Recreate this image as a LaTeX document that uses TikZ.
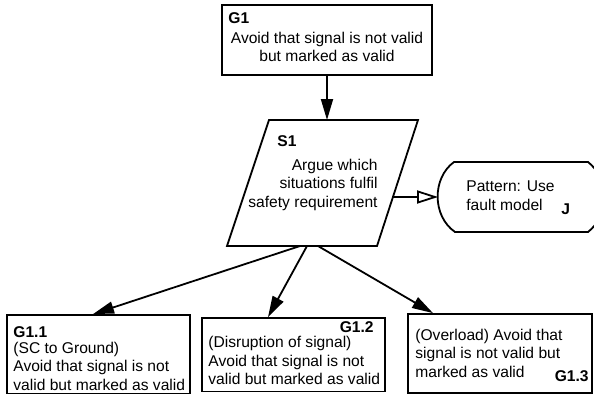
\documentclass[tikz,border=0pt]{standalone}
\usepackage{fontspec}
\setmainfont{Liberation Sans}
\usetikzlibrary{arrows.meta}
\begin{document}
\begin{tikzpicture}[x=0.5pt,y=-0.5pt,
  box/.style={draw, line width=0.9pt, inner sep=0pt, rectangle},
  shapeline/.style={line width=0.9pt},
  txt/.style={inner sep=0pt, font=\fontsize{7.8}{9.2}\selectfont},
  lbl/.style={inner sep=0pt, font=\fontsize{7.8}{9.2}\selectfont\bfseries},
  link/.style={line width=0.9pt, -{Triangle[length=10.5pt,width=6pt]}},
  hint/.style={line width=0.9pt, -{Triangle[open,length=10.5pt,width=6.5pt]}},
]
\useasboundingbox (0,0) rectangle (594,396);

% top goal (multi-line texts are placed by the baseline of their last line)
\node[box, minimum width=105pt, minimum height=35pt] (G1) at (327,40) {};
\node[lbl, anchor=base west] (G1id) at (228,23.3) {G1};
\node[txt, anchor=base, align=center] (G1txt) at (327,61.7)
  {Avoid that signal is not valid\\but marked as valid};

% strategy (parallelogram)
\coordinate (S1tl) at (269,120);
\coordinate (S1tr) at (418,120);
\coordinate (S1br) at (377,246);
\coordinate (S1bl) at (227,246);
\draw[shapeline] (S1tl) -- (S1tr) -- (S1br) -- (S1bl) -- cycle;
\coordinate (S1top) at (327,120);
\coordinate (S1right) at (393,197);
\coordinate (S1a) at (300,246);
\coordinate (S1b) at (307,246);
\coordinate (S1c) at (318,246);
\node[lbl, anchor=base west] (S1id) at (277,146) {S1};
\node[txt, anchor=base east, align=right] (S1txt) at (378,207)
  {Argue which\\situations fulfil\\safety requirement};

% justification
\draw[shapeline] (454,162) -- (588,162) .. controls (609,178) and (609,216) .. (588,232)
  -- (455,232) .. controls (432,216) and (432,178) .. (454,162) -- cycle;
\coordinate (Jleft) at (438,197);
\node[txt, anchor=base west, align=left] (Jtxt) at (466,210) {Pattern: Use\\fault model};
\node[lbl, anchor=base west] (Jid) at (561,214) {J};

% sub-goals
\node[box, minimum width=91.5pt, minimum height=39.25pt] (G11) at (98.5,354.25) {};
\node[lbl, anchor=base west] (G11id) at (13,337) {G1.1};
\node[txt, anchor=base west, align=left] (G11txt) at (13,390)
  {(SC to Ground)\\Avoid that signal is not\\valid but marked as valid};

\node[box, minimum width=91.5pt, minimum height=36.75pt] (G12) at (293.5,354.75) {};
\node[lbl, anchor=base east] (G12id) at (374,332) {G1.2};
\node[txt, anchor=base west, align=left] (G12txt) at (208,384.5)
  {(Disruption of signal)\\Avoid that signal is not\\valid but marked as valid};

\node[box, minimum width=92pt, minimum height=39.5pt] (G13) at (500,353.5) {};
\node[txt, anchor=base west, align=left] (G13txt) at (415,377)
  {(Overload) Avoid that\\signal is not valid but\\marked as valid};
\node[lbl, anchor=base east] (G13id) at (589,381) {G1.3};

% connectors
\draw[link] (G1.south) -- (S1top);
\draw[hint] (S1right) -- (Jleft);
\draw[link] (S1a) -- ([xshift=-2.75pt]G11.north);
\draw[link] (S1b) -- ([xshift=-12.75pt]G12.north);
\draw[link] (S1c) -- ([xshift=-33.5pt]G13.north);
\end{tikzpicture}
\end{document}
